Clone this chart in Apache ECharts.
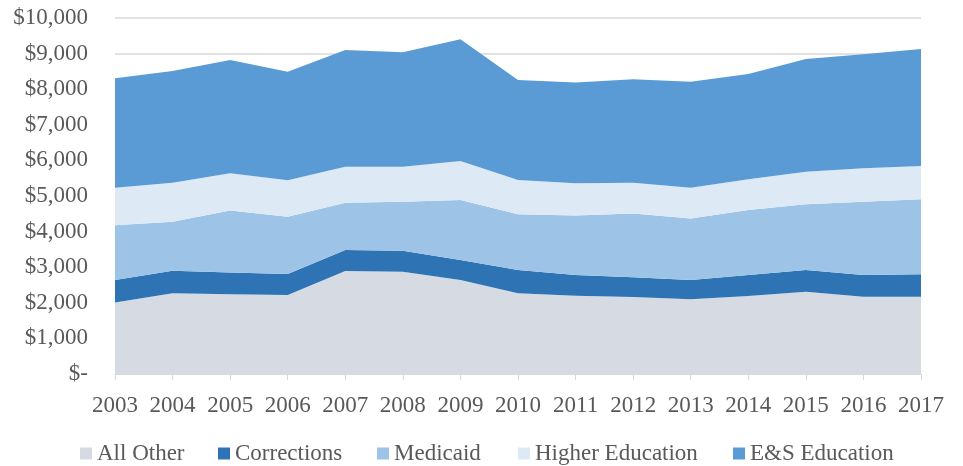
<!DOCTYPE html>
<html>
<head>
<meta charset="utf-8">
<script src="https://cdn.jsdelivr.net/npm/echarts@6/dist/echarts.min.js"></script>
<style>
  html, body { margin: 0; padding: 0; background: #fff; }
  #chart { width: 963px; height: 466px; }
</style>
</head>
<body>
<div id="chart"></div>
<script>
// Fiscal years on the horizontal axis
const years = ['2003','2004','2005','2006','2007','2008','2009','2010','2011','2012','2013','2014','2015','2016','2017'];

// Spending by category (millions of dollars), stacked bottom to top
const allOther        = [2010, 2270, 2240, 2220, 2890, 2870, 2640, 2270, 2200, 2160, 2100, 2190, 2310, 2170, 2170];
const corrections     = [ 630,  630,  610,  590,  590,  590,  560,  650,  580,  560,  540,  590,  610,  610,  630];
const medicaid        = [1540, 1380, 1740, 1610, 1330, 1380, 1690, 1570, 1670, 1790, 1730, 1830, 1850, 2060, 2110];
const higherEducation = [1050, 1090, 1050, 1020, 1010,  980, 1090,  960,  910,  860,  860,  860,  910,  940,  930];
const esEducation     = [3080, 3140, 3180, 3050, 3280, 3220, 3420, 2810, 2830, 2910, 2980, 2960, 3170, 3200, 3290];

const seriesNames  = ['All Other', 'Corrections', 'Medicaid', 'Higher Education', 'E&S Education'];
const seriesData   = [allOther, corrections, medicaid, higherEducation, esEducation];
const seriesColors = ['#d6dae3', '#2e74b5', '#9dc3e6', '#ddeaf6', '#5b9bd5'];

const textColor = '#595959';
const fontFamily = '"Liberation Serif", "Times New Roman", serif';

function money(v) {
  if (v === 0) return '$-';
  return '$' + v.toLocaleString('en-US');
}

// One legend block per entry so each sits at its own spot along the bottom row
const legendLeft = [75, 213, 372, 513, 728];
const legends = seriesNames.map((name, i) => ({
  data: [name],
  left: legendLeft[i],
  top: 437,
  icon: 'rect',
  itemWidth: 12,
  itemHeight: 12,
  itemGap: 0,
  itemTextGap: 6,
  selectedMode: false,
  textStyle: { color: textColor, fontSize: 23, fontFamily: fontFamily }
}));

const chart = echarts.init(document.getElementById('chart'), null, { renderer: 'canvas' });

chart.setOption({
  animation: false,
  backgroundColor: '#ffffff',
  color: seriesColors,
  legend: legends,
  grid: { left: 115, right: 42, top: 18, bottom: 92, containLabel: false },
  xAxis: {
    type: 'category',
    data: years,
    boundaryGap: false,
    axisLine: { show: true, lineStyle: { color: '#d9d9d9', width: 1 } },
    axisTick: { show: true, length: 6, interval: 0, lineStyle: { color: '#d9d9d9' } },
    axisLabel: { color: textColor, fontSize: 23, fontFamily: fontFamily, margin: 20, interval: 0, hideOverlap: false },
    splitLine: { show: false }
  },
  yAxis: {
    type: 'value',
    min: 0,
    max: 10000,
    interval: 1000,
    axisLine: { show: false },
    axisTick: { show: false },
    axisLabel: { color: textColor, fontSize: 23, fontFamily: fontFamily, margin: 27, formatter: money },
    splitLine: { show: true, lineStyle: { color: '#d9d9d9', width: 1.5 } }
  },
  series: seriesNames.map((name, i) => ({
    name: name,
    type: 'line',
    stack: 'total',
    data: seriesData[i],
    symbol: 'none',
    showSymbol: false,
    lineStyle: { width: 0 },
    areaStyle: { color: seriesColors[i], opacity: 1 },
    itemStyle: { color: seriesColors[i] },
    emphasis: { disabled: true }
  }))
});
</script>
</body>
</html>
